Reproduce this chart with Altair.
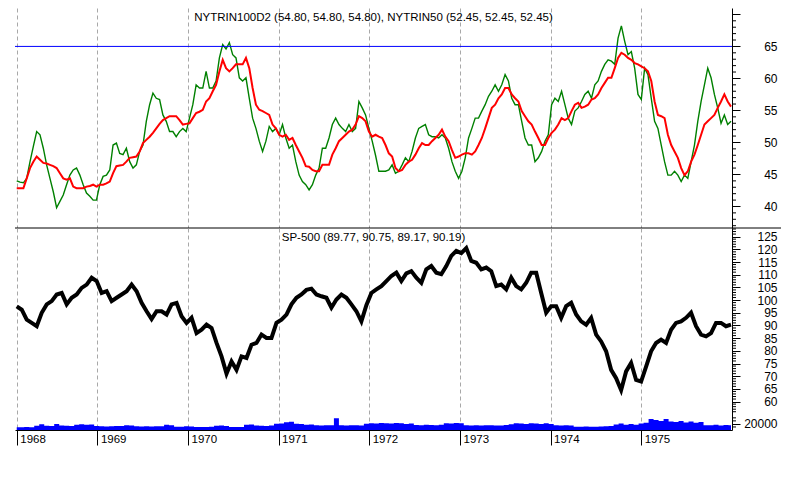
import altair as alt
import pandas as pd

# ---------------- data ----------------
green = [
    44.0, 43.8, 43.7, 44.4, 47.0, 49.4, 51.7, 51.2, 49.1, 46.5,
    44.4, 42.3, 39.8, 40.8, 41.8, 43.4, 44.9, 45.7, 46.0, 44.9,
    43.4, 42.1, 41.6, 41.0, 41.0, 43.4, 44.7, 44.9, 45.7, 49.6,
    49.9, 48.3, 48.1, 49.1, 47.0, 46.0, 46.5, 48.6, 49.6, 53.3,
    55.9, 57.7, 56.9, 56.7, 54.3, 53.3, 51.7, 51.7, 50.9, 51.7,
    52.2, 51.7, 53.8, 55.9,
    59.0, 58.5, 58.5, 61.1, 58.5, 58.5, 59.6, 63.2, 65.3, 64.6,
    65.6, 63.7, 63.2, 60.1, 59.6, 60.1, 56.9, 53.8, 52.2, 50.2,
    48.6, 50.2, 52.5, 51.7, 52.2, 51.2, 52.8, 50.7, 49.1, 49.6,
    47.0, 44.9, 43.9, 43.4, 42.6, 43.4, 44.9, 46.0, 49.1, 49.1,
    50.7, 52.8, 53.8, 52.8, 52.2, 51.7, 52.8, 51.7, 52.2, 56.4,
    55.4, 54.3, 52.2, 50.2,
    48.0, 45.5, 45.5, 45.5, 45.7, 46.5, 45.2, 45.5, 46.5, 47.6,
    47.0, 48.6, 50.7, 52.2, 52.5, 52.8, 51.2, 50.9, 50.9, 50.7,
    51.2, 50.7, 49.1, 47.0, 45.5, 44.4, 45.5, 47.6, 50.7, 52.2,
    53.8, 53.8, 54.9, 55.9, 57.2, 58.0, 59.0, 58.0, 59.0, 60.6,
    59.6, 56.9, 55.9, 55.9, 53.3, 50.7, 49.6, 49.6, 47.0, 47.6,
    48.6, 50.2, 51.2, 55.9,
    56.9, 56.4, 58.0, 55.9, 53.8, 52.8, 54.9, 55.4, 56.4, 57.5,
    58.0, 56.9, 59.0, 59.6, 61.1, 62.2, 62.9, 62.7, 62.2, 66.3,
    68.2, 65.8, 63.7, 64.2, 61.6, 57.5, 56.7, 61.6, 60.6, 56.9,
    53.3, 52.2, 49.6, 47.0, 44.9, 44.9, 45.5, 44.9, 43.9, 44.9,
    44.4, 47.0, 49.6, 53.3, 56.4, 59.0, 61.6, 60.1, 57.5, 55.4,
    53.0, 54.3, 52.8, 53.3,
]

red = [
    42.85, 42.85, 42.85, 44.4, 46.0, 47.0, 47.8, 47.3, 46.8, 46.7,
    46.5, 46.3, 46.0, 45.2, 44.4, 44.2, 44.4, 43.1, 42.85, 42.85,
    42.85, 43.1, 43.2, 43.4, 43.1, 43.4, 43.4, 43.6, 43.9, 45.2,
    46.3, 46.4, 46.5, 47.0, 47.6, 47.7, 47.8, 48.6, 49.9, 50.4,
    50.9, 51.5, 52.2, 52.9, 53.5, 53.8, 54.1, 54.1, 54.1, 53.5,
    52.8, 52.9, 53.0, 53.8,
    54.6, 54.8, 55.1, 56.4, 56.9, 58.0, 59.0, 61.1, 62.9, 61.6,
    61.1, 61.6, 62.2, 62.2, 62.2, 63.2, 61.6, 58.5, 55.9, 55.1,
    54.9, 54.6, 54.3, 52.8, 52.2, 51.2, 50.9, 51.2, 50.4, 50.7,
    49.6, 48.6, 47.6, 46.3, 46.2, 45.7, 45.5, 45.5, 46.5, 46.5,
    46.5, 48.1, 49.1, 50.2, 50.7, 51.2, 51.7, 52.0, 52.8, 54.1,
    53.8, 53.3, 51.7, 50.9,
    51.2, 50.9, 50.7, 49.6, 48.3, 47.8, 46.0, 45.5, 45.7, 46.5,
    47.0, 47.3, 48.1, 49.1, 49.9, 49.6, 49.6, 50.2, 50.7, 51.2,
    52.0, 50.9, 50.2, 48.8, 47.6, 47.8, 48.1, 48.3, 48.3, 48.1,
    48.6, 49.6, 50.7, 52.2, 53.8, 55.4, 55.9, 56.9, 57.5, 58.5,
    58.5, 57.5, 56.9, 56.4, 54.9, 54.1, 53.3, 52.8, 51.7, 50.7,
    49.6, 49.6, 50.7, 51.5,
    52.0, 52.8, 53.8, 53.5, 53.8, 54.9, 55.9, 56.2, 55.4, 55.6,
    55.9, 56.7, 56.9, 57.5, 58.5, 59.3, 60.1, 60.1, 61.6, 63.2,
    64.0, 63.7, 63.2, 62.9, 62.4, 62.2, 61.9, 61.6, 61.1, 59.6,
    56.4, 54.3, 54.1, 53.8, 51.2, 49.6, 48.6, 47.6, 46.0, 44.9,
    45.5, 47.0, 48.1, 49.6, 51.2, 52.8, 53.3, 53.8, 54.3, 55.4,
    56.4, 57.5, 56.4, 55.6,
]

sp_close = [
    97.5, 96.2, 92.3, 91.0, 89.7, 95.0, 98.3, 99.6, 102.2, 102.8,
    98.3, 100.9, 102.2, 104.8, 106.1, 108.8, 107.5, 102.8, 103.5, 99.6,
    100.9, 102.2, 103.5, 106.1, 103.5, 98.9, 95.6, 92.5, 95.6, 95.6,
    94.3, 98.3, 98.9, 93.6, 91.0, 93.0, 87.0, 88.3, 90.3, 89.0,
    83.1, 77.8, 71.0, 75.8, 72.5, 77.8, 77.2, 82.4, 83.1, 86.4,
    85.1, 85.1, 91.0, 92.3, 94.3, 98.3, 100.9, 102.2, 104.0, 104.5,
    102.2, 101.5, 100.9, 97.0, 100.2, 102.2, 100.9, 98.3, 95.6, 91.6,
    98.0, 102.8, 104.2, 105.5, 107.5, 109.5, 110.8, 107.5, 110.5, 111.4,
    108.8, 106.8, 112.1, 113.4, 110.8, 110.2, 113.4, 117.4, 119.4, 118.5,
    120.5, 115.4, 114.7, 112.1, 112.8, 111.4, 105.5, 106.1, 104.2, 108.8,
    105.5, 104.2, 106.8, 110.8, 110.8, 102.8, 95.0, 97.6, 97.6, 93.0,
    97.6, 98.9, 94.3, 91.6, 90.3, 93.0, 86.4, 83.7, 79.8, 72.5,
    69.2, 64.5, 71.9, 75.2, 68.5, 67.9, 73.8, 79.8, 83.1, 84.4,
    83.1, 88.3, 91.0, 91.6, 93.0, 95.0, 89.7, 86.4, 85.7, 87.0,
    91.0, 91.0, 89.7, 90.3,
]

volume = [
    8900, 8900, 9500, 8900, 14000, 18800, 14200, 13500, 19800, 15000,
    14200, 13500, 17500, 19000, 17500, 18000, 13000, 12200, 11500, 12200,
    13200, 13200, 15500, 15000, 12200, 11500, 12200, 11500, 12200, 12000,
    17500, 16000, 10900, 10900, 12200, 11800, 9900, 9500, 9900, 10500,
    14200, 15000, 13500, 9900, 9500, 9900, 17500, 18000, 15000, 14200,
    13500, 15000, 20800, 21500, 25400, 27000, 20800, 20000, 17500, 18000,
    15500, 15000, 16000, 15500, 38600, 15500, 15000, 16000, 15500, 14500,
    20800, 22100, 21000, 23000, 22100, 21000, 23000, 22100, 20000, 21500,
    16500, 16000, 17500, 16500, 15500, 17000, 22100, 21000, 23000, 22100,
    15500, 15000, 16000, 14500, 15500, 16000, 15000, 14500, 16500, 19000,
    22100, 21000, 20000, 22100, 21000, 20000, 22100, 20000, 15500, 14500,
    16000, 15000, 10900, 10500, 11500, 10900, 10500, 11500, 12000, 13000,
    18500, 21000, 17000, 19800, 17500, 21000, 24000, 36000, 33000, 30000,
    36000, 28000, 26400, 30000, 25000, 28000, 24000, 26000, 16000, 15500,
    17500, 15000, 16500, 15500,
]

osc_title = "NYTRIN100D2 (54.80, 54.80, 54.80), NYTRIN50 (52.45, 52.45, 52.45)"
sp_title = "SP-500 (89.77, 90.75, 89.17, 90.19)"

osc_major = [40, 45, 50, 55, 60, 65, 70]
osc_minor = [v for v in range(37, 71) if v % 5]
sp_major = list(range(60, 126, 5))
sp_minor = [v for v in range(56, 129) if v % 5]
vol_major = [20000]
vol_minor = [10000, 30000, 40000]
limit_level = [65]

first_day = pd.Timestamp("1968-02-11")
last_day = pd.Timestamp("1975-12-29")

osc_df = pd.DataFrame({
    "date": pd.date_range(first_day, last_day, periods=len(green)),
    "NYTRIN100D2": green,
    "NYTRIN50": red,
})
sp_df = pd.DataFrame({
    "date": pd.date_range(first_day, last_day, periods=len(sp_close)),
    "close": sp_close,
    "volume": volume,
})
one = pd.DataFrame({"k": [0]})

# ---------------- layout / style ----------------
W = 717
H1 = 220
H2 = 202
FONT = "Liberation Sans"
GRID = "#a8a8a8"

year_ticks = [alt.DateTime(year=1968, month=2, date=11)] + [
    alt.DateTime(year=y, month=1, date=1) for y in range(1969, 1976)
]
xscale = alt.Scale(
    domain=[alt.DateTime(year=1968, month=2, date=4), alt.DateTime(year=1976, month=1, date=2)],
    nice=False,
)

x_top = alt.X(
    "date:T", scale=xscale,
    axis=alt.Axis(values=year_ticks, grid=True, gridColor=GRID, gridDash=[4, 3],
                  labels=False, ticks=False, domain=False, title=None),
)
x_bot = alt.X(
    "date:T", scale=xscale,
    axis=alt.Axis(values=year_ticks, format="%Y", grid=True, gridColor=GRID, gridDash=[4, 3],
                  ticks=True, tickSize=15, tickColor="black", domain=True, domainColor="black",
                  labelAlign="left", labelBaseline="middle", labelPadding=-6, labelOffset=3,
                  labelFont=FONT, labelFontSize=11.5, labelColor="black",
                  labelFlush=False, labelOverlap=False, title=None),
)


def yaxis(values, label_expr=None, fmt=None, domain=True):
    kw = dict(orient="right", values=values, grid=False, domain=domain, domainColor="black",
              ticks=True, tickColor="black", tickSize=8, labelAlign="right",
              labelBaseline="middle", labelPadding=37, labelFont=FONT, labelFontSize=12,
              labelColor="black", labelOverlap=False, labelFlush=False, title=None)
    if label_expr:
        kw["labelExpr"] = label_expr
    if fmt:
        kw["format"] = fmt
    return alt.Axis(**kw)


# ---------------- top panel ----------------
ys_top = alt.Scale(domain=[36.64, 71.0], nice=False, zero=False)
ax_top = yaxis(osc_major, label_expr="datum.value == 70 ? '' : datum.label")

green_line = alt.Chart(osc_df).mark_line(color="#008000", strokeWidth=1.4).encode(
    x=x_top, y=alt.Y("NYTRIN100D2:Q", scale=ys_top, axis=ax_top))
red_line = alt.Chart(osc_df).mark_line(color="#ff0000", strokeWidth=2).encode(
    x=x_top, y=alt.Y("NYTRIN50:Q", scale=ys_top, axis=ax_top))
limit_rule = alt.Chart(pd.DataFrame({"level": limit_level})).mark_rule(
    color="#0000ff", strokeWidth=1).encode(y=alt.Y("level:Q", scale=ys_top, axis=ax_top))
top_minor = alt.Chart(pd.DataFrame({"v": osc_minor})).mark_rule(color="black").encode(
    y=alt.Y("v:Q", scale=ys_top, axis=ax_top), x=alt.value(W), x2=alt.value(W + 4))
top_title = alt.Chart(one).mark_text(font=FONT, fontSize=11.5, color="black",
                                     align="center", baseline="middle").encode(
    x=alt.value(W / 2), y=alt.value(10), text=alt.value(osc_title))
separator = alt.Chart(one).mark_rule(color="black", strokeWidth=1).encode(
    x=alt.value(0), x2=alt.value(766), y=alt.value(H1))

top = alt.layer(green_line, red_line, limit_rule, top_minor, top_title, separator).properties(
    width=W, height=H1)

# ---------------- bottom panel ----------------
ys_sp = alt.Scale(domain=[48.8, 128.4], nice=False, zero=False)
ax_sp = yaxis(sp_major)
ys_vol = alt.Scale(domain=[0, 665000], nice=False)
ax_vol = yaxis(vol_major, fmt="d", domain=False)

vol_area = alt.Chart(sp_df).mark_area(color="#0000ff", interpolate="step").encode(
    x=x_bot, y=alt.Y("volume:Q", scale=ys_vol, axis=ax_vol))
vol_minor_r = alt.Chart(pd.DataFrame({"v": vol_minor})).mark_rule(color="black").encode(
    y=alt.Y("v:Q", scale=ys_vol, axis=ax_vol), x=alt.value(W), x2=alt.value(W + 4))
vol_layer = alt.layer(vol_area, vol_minor_r)

sp_line = alt.Chart(sp_df).mark_line(color="black", strokeWidth=4).encode(
    x=x_bot, y=alt.Y("close:Q", scale=ys_sp, axis=ax_sp))
sp_minor_r = alt.Chart(pd.DataFrame({"v": sp_minor})).mark_rule(color="black").encode(
    y=alt.Y("v:Q", scale=ys_sp, axis=ax_sp), x=alt.value(W), x2=alt.value(W + 4))
sp_layer = alt.layer(sp_line, sp_minor_r)

bot_title = alt.Chart(one).mark_text(font=FONT, fontSize=11.5, color="black",
                                     align="center", baseline="middle").encode(
    x=alt.value(W / 2), y=alt.value(10), text=alt.value(sp_title))

bottom = alt.layer(vol_layer, sp_layer, bot_title).resolve_scale(y="independent").properties(
    width=W, height=H2)

chart = (
    alt.vconcat(top, bottom, spacing=0, bounds="flush")
    .properties(padding=0)
    .configure_view(stroke=None)
)

chart.save("out.html", embed_options={"renderer": "svg", "actions": False})
